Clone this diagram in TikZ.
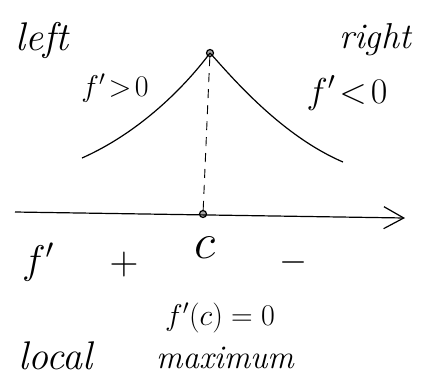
\RequirePackage{fix-cm}
\documentclass[tikz,border=0pt]{standalone}
\usepackage{amsmath}
\usepackage{amssymb}
\usepackage{tikz}
\usepackage{xcolor}
\usetikzlibrary{arrows.meta}

\tikzset{
  hand/.style={font=\fontsize{30}{34}\selectfont\itshape},
  handbig/.style={font=\fontsize{40}{44}\selectfont\itshape},
  handm/.style={font=\fontsize{30}{34}\selectfont},
  dotc/.style={circle,fill=gray!70,draw=black,inner sep=0pt,minimum size=7pt}
}

\begin{document}
\begin{tikzpicture}[x=1pt,y=-1pt,line width=1.2pt]
\useasboundingbox (0,0) rectangle (428,384);
\coordinate (lfoot) at (82,158);
\coordinate (rfoot) at (343,162);
\node[dotc] (peak) at (210,53) {};
\node[dotc] (cpt) at (203,214) {};
\coordinate (axstart) at (15,212);
\coordinate (axend) at (405,218);
% curve
\draw (lfoot) .. controls (145,130) and (190,80) .. (peak.center);
\draw (peak.center) .. controls (230,75) and (280,135) .. (rfoot);
\draw[line width=0.9pt,dash pattern=on 9pt off 7pt] (peak) -- (cpt);
\draw[-{Straight Barb[length=20pt,width=22pt,line width=1.2pt]}] (axstart) -- (axend);
% labels
\node[handbig] (lleft) at (42,40) {left};
\node[font=\fontsize{36}{40}\selectfont\itshape] (lright) at (375,40) {right};
\node[hand] (lpos) at (115,88) {$f'\!>\!0$};
\node[font=\fontsize{36}{40}\selectfont] (lneg) at (347,93) {$f'\!<\!0$};
\node[handbig] (lfp) at (38,262) {$f'$};
\node[handbig] (lplus) at (124,264) {$+$};
\node[font=\fontsize{50}{54}\selectfont] (lc) at (205,248) {$c$};
\node[font=\fontsize{36}{40}\selectfont] (lminus) at (293,262) {$-$};
\node[handm] (lzero) at (220,318) {$f'(c)=0$};
\node[handbig] (lloc) at (55,356) {local};
\node[font=\fontsize{33}{36}\selectfont\itshape] (lmax) at (225,358) {maximum};
\end{tikzpicture}
\end{document}
